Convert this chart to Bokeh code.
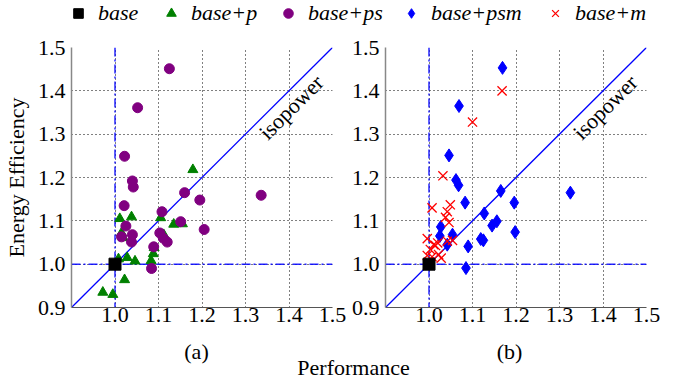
import math
from bokeh.plotting import figure
from bokeh.models import (Range1d, FixedTicker, Span, Slope, Label, Legend, LegendItem,
                          PrintfTickFormatter)
from bokeh.layouts import column, row
from bokeh.embed import file_html
from bokeh.resources import INLINE

FONT = "'Liberation Serif', 'Times New Roman', serif"

# ---------------- data ----------------
x_ticks = [1.0, 1.1, 1.2, 1.3, 1.4, 1.5]
y_ticks = [0.9, 1.0, 1.1, 1.2, 1.3, 1.4, 1.5]

base_x = [1.0]
base_y = [1.0]

# panel (a)
p_x = [1.179, 1.011, 1.038, 1.015, 1.019, 1.105, 1.135, 1.155, 1.112, 1.090,
       1.088, 1.083, 1.028, 1.046, 1.008, 1.022, 0.972, 0.995]
p_y = [1.218, 1.105, 1.109, 1.072, 1.061, 1.107, 1.092, 1.093, 1.068, 1.038,
       1.024, 1.008, 1.015, 1.007, 1.012, 0.964, 0.935, 0.930]

ps_x = [1.125, 1.052, 1.022, 1.040, 1.042, 1.021, 1.160, 1.195, 1.108, 1.151,
        1.205, 1.336, 1.025, 1.040, 1.015, 1.038, 1.103, 1.111, 1.120, 1.089, 1.084]
ps_y = [1.451, 1.361, 1.249, 1.192, 1.178, 1.135, 1.165, 1.148, 1.121, 1.098,
        1.080, 1.159, 1.088, 1.068, 1.063, 1.051, 1.072, 1.060, 1.051, 1.040, 0.990]

# panel (b)
psm_x = [1.169, 1.069, 1.046, 1.062, 1.068, 1.083, 1.165, 1.196, 1.127, 1.156,
         1.145, 1.198, 1.325, 1.027, 1.025, 1.054, 1.042, 1.119, 1.125, 1.090, 1.085]
psm_y = [1.453, 1.365, 1.251, 1.194, 1.182, 1.142, 1.169, 1.142, 1.117, 1.099,
         1.089, 1.074, 1.165, 1.086, 1.065, 1.068, 1.045, 1.058, 1.055, 1.041, 0.991]

m_x = [1.168, 1.100, 1.032, 1.007, 1.049, 1.042, 1.038, 1.046, 0.996, 1.011,
       1.020, 1.042, 1.054, 1.003, 0.996, 1.007, 1.022, 1.028, 1.000, 1.015]
m_y = [1.400, 1.328, 1.204, 1.130, 1.137, 1.121, 1.108, 1.096, 1.059, 1.045,
       1.049, 1.053, 1.055, 1.034, 1.020, 1.017, 1.022, 1.014, 1.005, 1.043]

series_labels = ["base", "base+p", "base+ps", "base+psm", "base+m"]
panel_labels = ["(a)", "(b)"]
x_title = "Performance"
y_title = "Energy Efficiency"

# ---------------- styles ----------------
STY = {
    "base": dict(marker="square", size=12, fill_color="black", line_color="black"),
    "base+p": dict(marker="triangle", size=10, fill_color="#008000", line_color="#008000"),
    "base+ps": dict(marker="circle", size=10, fill_color="#800080", line_color="#800080"),
    "base+psm": dict(marker="diamond", size=13, fill_color="#0000ff", line_color="#0000ff"),
    "base+m": dict(marker="x", size=13, line_color="#ff0000", line_width=1.3),
}
# left edge (screen px) of each legend entry in the legend strip
LEG_X = [66, 159, 276, 399, 543]


def panel(ylabel, mbl):
    p = figure(frame_width=261, frame_height=260,
               x_range=Range1d(0.9, 1.5), y_range=Range1d(0.9, 1.5),
               output_backend="svg", toolbar_location=None,
               min_border_left=mbl, min_border_right=16,
               min_border_top=17, min_border_bottom=30)
    p.outline_line_color = None
    p.xaxis.ticker = FixedTicker(ticks=x_ticks)
    p.yaxis.ticker = FixedTicker(ticks=y_ticks)
    p.xgrid.ticker = FixedTicker(ticks=x_ticks)
    p.ygrid.ticker = FixedTicker(ticks=y_ticks)
    p.grid.grid_line_color = "black"
    p.grid.grid_line_dash = "1 3"
    p.grid.grid_line_width = 1
    for ax in (p.xaxis[0], p.yaxis[0]):
        ax.major_tick_in = 0
        ax.major_tick_out = 0
        ax.minor_tick_in = 0
        ax.minor_tick_out = 0
        ax.formatter = PrintfTickFormatter(format="%.1f")
        ax.major_label_text_font = FONT
        ax.major_label_text_font_size = "22px"
        ax.major_label_text_color = "black"
        ax.axis_label_text_font = FONT
        ax.axis_label_text_font_size = "22px"
        ax.axis_label_text_font_style = "normal"
        ax.axis_label_text_color = "black"
    p.xaxis.axis_line_color = "#555555"
    p.xaxis.axis_line_width = 1.2
    p.yaxis.axis_line_color = "#888888"
    p.yaxis.axis_line_width = 1.5
    p.xaxis.major_label_standoff = 0
    p.yaxis.major_label_standoff = 6
    if ylabel:
        p.yaxis.axis_label = ylabel
        p.yaxis.axis_label_standoff = 6

    # reference lines: base level and isopower
    for sp in (Span(location=base_x[0], dimension="height"),
               Span(location=base_y[0], dimension="width")):
        sp.line_color = "#0000ff"
        sp.line_width = 1.5
        sp.line_dash = "9 3 2 3"
        sp.line_alpha = 0.85
        sp.level = "underlay"
        p.add_layout(sp)
    iso = Slope(gradient=1, y_intercept=0, line_color="#0000ff", line_width=1.3, level="underlay")
    p.add_layout(iso)
    p.add_layout(Label(x=1.405, y=1.362, text="isopower", angle=45, angle_units="deg",
                       text_align="center", text_baseline="middle",
                       text_font=FONT, text_font_size="22px", text_color="black"))
    return p


fa = panel(y_title, 66)
fa.scatter(p_x, p_y, **STY["base+p"])
fa.scatter(ps_x, ps_y, **STY["base+ps"])
fa.scatter(base_x, base_y, **STY["base"])

fb = panel(None, 36)
fb.scatter(psm_x, psm_y, **STY["base+psm"])
fb.scatter(m_x, m_y, **STY["base+m"])
fb.scatter(base_x, base_y, **STY["base"])


def strip(h):
    s = figure(width=656, height=h, x_range=Range1d(0, 1), y_range=Range1d(0, 1),
               output_backend="svg", toolbar_location=None, min_border=0)
    s.axis.visible = False
    s.grid.visible = False
    s.outline_line_color = None
    return s


# legend strip
lg = strip(30)
for lab, lx in zip(series_labels, LEG_X):
    r = lg.scatter([math.nan], [math.nan], **STY[lab])
    leg = Legend(items=[LegendItem(label=lab, renderers=[r])], location=(lx, 4),
                 border_line_color=None, background_fill_alpha=0, padding=0, margin=0,
                 label_standoff=8, glyph_width=24, glyph_height=24,
                 label_text_font=FONT, label_text_font_style="italic",
                 label_text_font_size="22px", label_text_color="black")
    lg.add_layout(leg, "center")

# bottom strip: panel captions and the shared x title
bt = strip(44)
for txt, cx in zip(panel_labels, [196, 509]):
    bt.add_layout(Label(x=cx, y=30, x_units="screen", y_units="screen", text=txt,
                        text_align="center", text_baseline="middle",
                        text_font=FONT, text_font_size="22px", text_color="black"))
bt.add_layout(Label(x=353, y=14, x_units="screen", y_units="screen", text=x_title,
                    text_align="center", text_baseline="middle",
                    text_font=FONT, text_font_size="22px", text_color="black"))

layout = column(lg, row(fa, fb), bt)
open("out.html", "w").write(file_html(layout, INLINE))
